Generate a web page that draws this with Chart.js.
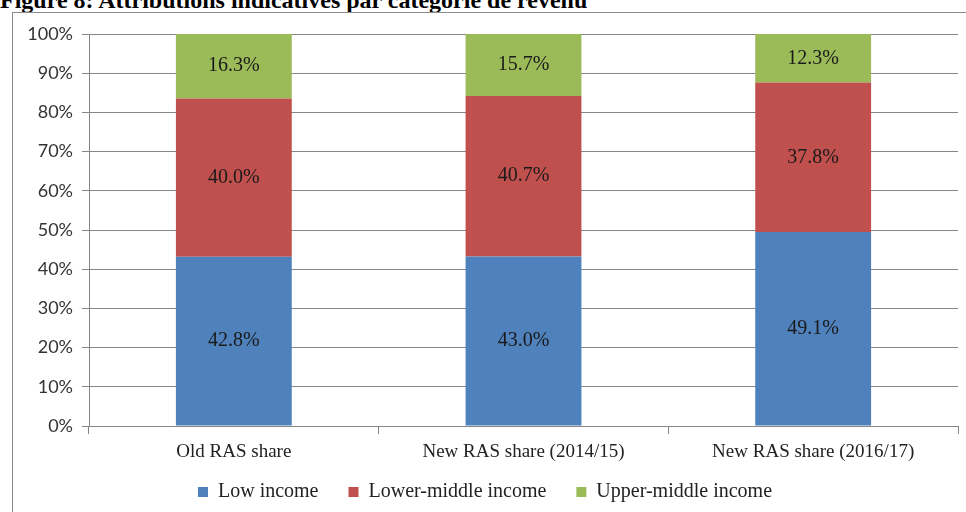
<!DOCTYPE html>
<html>
<head>
<meta charset="utf-8">
<script src="https://cdn.jsdelivr.net/npm/chart.js@4"></script>
<style>
  body { margin: 0; width: 966px; height: 512px; overflow: hidden; background: #fff; position: relative; }
  #title { position: absolute; left: 0; top: -12px; font: bold 24px "Liberation Serif", "Times New Roman", serif; line-height: 24px; color: #000; white-space: nowrap; }
  #frame { position: absolute; left: 12px; top: 12px; width: 1000px; height: 600px; border: 1px solid #8c8c8c; }
  #myChart { position: absolute; left: 0; top: 0; }
</style>
</head>
<body>
<div id="title">Figure 8: Attributions indicatives par catégorie de revenu</div>
<div id="frame"></div>
<canvas id="myChart" width="966" height="512"></canvas>
<script>
const categories = ['Old RAS share', 'New RAS share (2014/15)', 'New RAS share (2016/17)'];
const seriesNames = ['Low income', 'Lower-middle income', 'Upper-middle income'];
const lowIncome = [42.8, 43.0, 49.1];
const lowerMiddle = [40.0, 40.7, 37.8];
const upperMiddle = [16.3, 15.7, 12.3];
const yTicks = [0, 10, 20, 30, 40, 50, 60, 70, 80, 90, 100];

const colors = ['#4F81BD', '#C0504D', '#9BBB59'];
const raw = [lowIncome, lowerMiddle, upperMiddle];

// 100% stacked: each column scaled to its own total, labels keep the printed values
const totals = categories.map((c, i) => raw.reduce((s, arr) => s + arr[i], 0));

const serif = '"Liberation Serif", "Times New Roman", serif';

const segmentLabels = {
  id: 'segmentLabels',
  afterDatasetsDraw(chart) {
    const c = chart.ctx;
    c.save();
    c.font = '20px ' + serif;
    c.fillStyle = '#1a1a1a';
    c.textAlign = 'center';
    c.textBaseline = 'middle';
    chart.data.datasets.forEach((ds, di) => {
      chart.getDatasetMeta(di).data.forEach((bar, i) => {
        c.fillText(raw[di][i].toFixed(1) + '%', bar.x, (bar.y + bar.base) / 2);
      });
    });
    c.restore();
  }
};

const ctx = document.getElementById('myChart');
new Chart(ctx, {
  type: 'bar',
  data: {
    labels: categories,
    datasets: raw.map((arr, di) => ({
      label: seriesNames[di],
      data: arr.map((v, i) => v / totals[i] * 100),
      backgroundColor: colors[di],
      borderWidth: 0,
      categoryPercentage: 1,
      barPercentage: 0.4
    }))
  },
  options: {
    responsive: false,
    animation: false,
    layout: { padding: { top: 34, left: 12, right: 8, bottom: 0 } },
    plugins: {
      tooltip: { enabled: false },
      legend: {
        position: 'bottom',
        labels: {
          boxWidth: 10,
          boxHeight: 10,
          padding: 10,
          color: '#222',
          font: { family: serif, size: 20 },
          // wider gap between items without making the legend taller
          generateLabels: (chart) => {
            const items = Chart.defaults.plugins.legend.labels.generateLabels(chart);
            items.forEach((it, i) => { if (i < items.length - 1) it.text += '    '; });
            return items;
          }
        }
      }
    },
    scales: {
      x: {
        stacked: true,
        afterFit: (scale) => { scale.height = 46; },
        grid: { offset: true, drawOnChartArea: false, drawTicks: true, tickLength: 8, color: '#868686' },
        border: { display: true, color: '#868686' },
        ticks: { color: '#222', padding: 7, font: { family: serif, size: 19 } }
      },
      y: {
        stacked: true,
        min: 0,
        max: 100,
        afterFit: (scale) => { scale.width = 77; },
        afterBuildTicks: (scale) => { scale.ticks = yTicks.map(v => ({ value: v })); },
        grid: { color: '#868686', tickLength: 7 },
        border: { display: true, color: '#868686' },
        ticks: {
          color: '#333',
          padding: 9,
          font: { family: 'Lato, "Open Sans", sans-serif', size: 18 },
          callback: (v) => v + '%'
        }
      }
    }
  },
  plugins: [segmentLabels]
});
</script>
</body>
</html>
